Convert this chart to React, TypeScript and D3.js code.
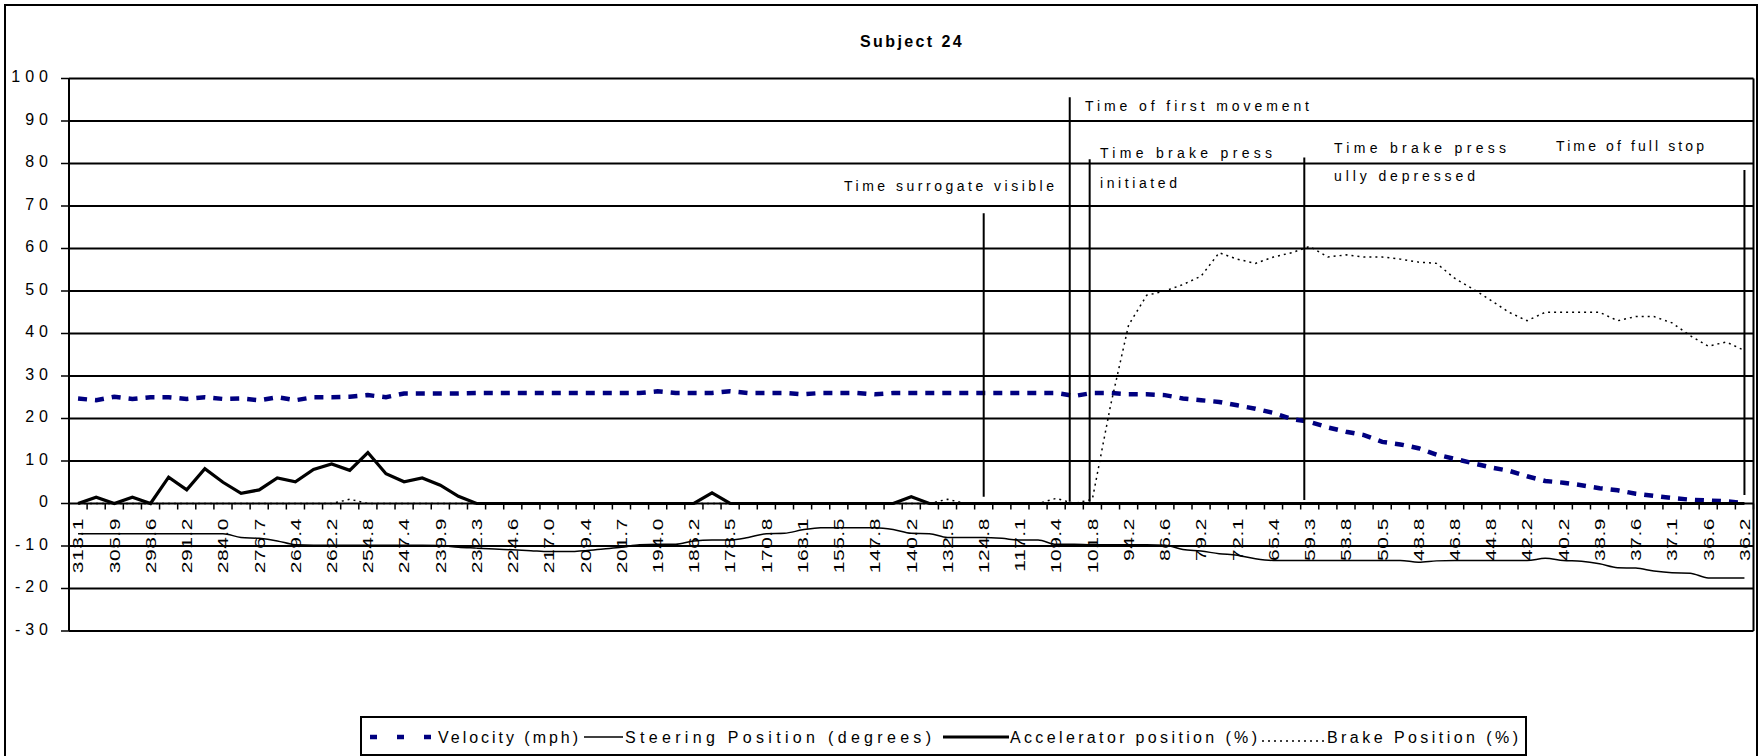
import React from "react";
import * as d3 from "d3";

// ---- data ----
const xTickLabels = ["313.1","305.9","298.6","291.2","284.0","276.7","269.4","262.2","254.8","247.4","239.9","232.3","224.6","217.0","209.4","201.7","194.0","186.2","178.5","170.8","163.1","155.5","147.8","140.2","132.5","124.8","117.1","109.4","101.8","94.2","86.6","79.2","72.1","65.4","59.3","53.8","50.5","48.8","46.8","44.8","42.2","40.2","38.9","37.6","37.1","36.6","36.2"];

const velocity = [24.7,24.3,25.1,24.6,25.0,25.0,24.6,25.0,24.6,24.7,24.3,25.0,24.3,25.0,25.0,25.1,25.5,25.0,25.9,25.9,25.9,
  25.9,
  26.0,26.0,26.0,26.0,26.0,26.0,26.0,26.0,26.0,26.0,
  26.4,
  26.0,26.0,26.0,
  26.4,
  26.0,26.0,26.0,
  25.7,
  26.0,26.0,26.0,
  25.7,
  26.0,26.0,26.0,26.0,26.0,26.0,26.0,26.0,26.0,26.0,
  25.3,26.0,26.0,25.7,25.7,25.5,24.7,24.3,23.9,23.1,22.3,21.3,19.9,19.2,17.9,16.9,16.1,14.5,13.9,13.0,11.5,10.5,9.5,8.5,7.7,6.4,5.3,4.9,4.3,3.6,3.1,2.3,1.8,1.3,0.9,0.7,0.5,0.1];

const steering = [-7.1,-7.1,-7.1,-7.1,-7.1,-7.1,-7.1,-7.1,-7.1,-8.0,-8.2,-8.8,-9.7,-9.8,-9.8,-9.8,-9.8,-9.8,-9.8,-9.8,-9.9,
  -10.3,-10.5,-10.7,-10.9,-11.1,-11.3,-11.3,-11.1,-10.7,-10.3,-9.7,-9.6,-9.6,-8.8,-8.6,-8.6,-8.0,-7.1,-7.0,-6.2,-5.7,-5.7,-5.7,-5.7,-6.1,-7.0,-7.1,-8.0,-8.0,-8.0,-8.2,-8.6,-8.6,-9.6,-9.6,
  -9.7,-9.7,-9.7,-9.7,-9.8,-10.8,-11.2,-11.8,-12.2,-13.0,
  -13.4,-13.4,-13.4,-13.4,-13.4,-13.4,-13.4,-13.4,-13.8,-13.5,
  -13.4,-13.4,-13.4,-13.4,-13.4,-12.9,-13.4,-13.6,-14.2,-15.1,-15.2,-15.9,-16.3,-16.4,-17.5,-17.5,-17.5];

const accelerator = [0,1.5,0,1.5,0,6.2,3.2,8.2,5.0,2.4,3.2,6.0,5.1,8.0,9.3,7.8,12.0,7.0,5.1,6.0,4.3,1.7,
  0,0,0,0,0,0,0,0,0,0,0,0,0,
  2.5,
  0,0,0,0,0,0,0,0,0,0,
  1.6,
  0,0,0,0,0,0,0,0,0,0,0,0,0,0,0,0,0,0,0,0,0,0,0,0,0,0,0,0,0,0,0,0,0,0,0,0,0,0,0,0,0,0,0,0,0,0];

const brake = [0,0,0,0,0,0,0,0,0,0,0,0,0,0,0,1.0,
  0,0,0,0,0,0,0,0,0,0,0,0,0,0,0,0,0,0,0,0,0,0,0,0,0,0,0,0,0,0,0,0,
  1.0,0,0,0,0,0,1.2,0,1.0,
  23,42,49,50,51.5,53.5,59,57.5,56.5,58,59,60.5,58,58.5,58,58,57.5,56.8,56.5,53,50.5,47.8,45,43,45,45,45,45,43,44,44,42.5,39.5,37,38,36];

const yTicks = [100, 90, 80, 70, 60, 50, 40, 30, 20, 10, 0, -10, -20, -30];
const seriesNames = ["Velocity (mph)", "Steering Position (degrees)", "Accelerator position (%)", "Brake Position (%)"];
const title = "Subject 24";

// event markers: category position, top / bottom value, label lines
const markerIndex = [50, 54.75, 55.85, 67.7, 92];
const markerTop = [68.3, 95.6, 81, 81.4, 78.5];
const markerBottom = [1.6, 0.4, 0.4, 0.8, 2];
const markerLabels = [["Time surrogate visible"], ["Time of first movement"], ["Time brake press", "initiated"], ["Time brake press", "ully depressed"], ["Time of full stop"]];

// ---- layout ----
const W = 1760, H = 756;
const L = 69, R = 1753.5, T = 78.5, B = 631;
const FONT = "'Liberation Sans', Arial, Helvetica, sans-serif";
const NAVY = "#000080";

// label placements: x start, baselines, and rendered widths of each line
const markerLabelPos = [[844, 191], [1085, 110.5], [1100, 158, 188], [1334, 153, 181], [1556, 151]];
const markerLabelWidth = [[210], [224], [172, 77], [172, 141], [148]];

// legend layout: symbol x1, x2, text x, text width
const legendSym = [[370, 431], [584, 623], [943, 1009], [1262, 1324]];
const legendText = [[438, 140], [625, 306], [1010, 247], [1327, 191]];

export default function App() {
  const n = velocity.length;
  const x = d3.scaleLinear().domain([-0.5, n - 0.5]).range([L, R]);
  const y = d3.scaleLinear().domain([-30, 100]).range([B, T]);
  const mk = (curve: any) => d3.line<number>().x((_, i) => x(i)).y(d => y(d)).curve(curve);
  const y0 = y(0);

  const yLS = 5;

  const seriesStyle = [
    { stroke: NAVY, width: 4.5, dash: "9 8" },
    { stroke: "#000", width: 1.5, dash: undefined },
    { stroke: "#000", width: 3.2, dash: undefined },
    { stroke: "#000", width: 1.5, dash: "2 4" },
  ];

  return (
    <div style={{ position: "fixed", left: 0, top: 0, width: W, height: H, background: "#fff" }}>
      <svg width={W} height={H} style={{ display: "block", fontFamily: FONT }}>
        <rect x={0} y={0} width={W} height={H} fill="#fff" />
        {/* outer chart border */}
        <rect x={5} y={5} width={1752} height={800} fill="none" stroke="#000" strokeWidth={2} />
        {/* title */}
        <text x={912} y={47} textAnchor="middle" fontSize={16} fontWeight="bold" letterSpacing={2.4}>{title}</text>

        {/* gridlines */}
        {yTicks.map(v => (
          <line key={"g" + v} x1={L} x2={R} y1={y(v)} y2={y(v)} stroke="#000" strokeWidth={2} />
        ))}
        {/* plot border left/right */}
        <line x1={L} x2={L} y1={T} y2={B} stroke="#000" strokeWidth={2} />
        <line x1={R} x2={R} y1={T} y2={B} stroke="#000" strokeWidth={2} />
        {/* y ticks + labels */}
        {yTicks.map(v => (
          <g key={"yt" + v}>
            <line x1={L - 8} x2={L} y1={y(v)} y2={y(v)} stroke="#000" strokeWidth={1.5} />
            <text x={53} y={y(v) - 2} textAnchor="end" dominantBaseline="central" fontSize={16} letterSpacing={yLS}>{v}</text>
          </g>
        ))}
        {/* x ticks at category boundaries */}
        {d3.range(n + 1).map(k => (
          <line key={"xt" + k} x1={x(k - 0.5)} x2={x(k - 0.5)} y1={y0} y2={y0 + 6} stroke="#000" strokeWidth={1.5} />
        ))}
        {/* x tick labels (every second category), glyphs stretched along the text */}
        {xTickLabels.map((lab, k) => (
          <text key={"xl" + k} transform={`translate(${x(k * 2)},${518}) rotate(-90) scale(1.4,1)`} textAnchor="end" dominantBaseline="central" fontSize={15} letterSpacing={0.4}>{lab}</text>
        ))}

        {/* series */}
        <path d={mk(d3.curveLinear)(velocity) || ""} fill="none" stroke={NAVY} strokeWidth={4.5} strokeDasharray="9 8" />
        <path d={mk(d3.curveMonotoneX)(steering) || ""} fill="none" stroke="#000" strokeWidth={1.5} />
        <path d={mk(d3.curveLinear)(accelerator) || ""} fill="none" stroke="#000" strokeWidth={3.2} strokeLinejoin="miter" />
        <path d={mk(d3.curveLinear)(brake) || ""} fill="none" stroke="#000" strokeWidth={1.5} strokeDasharray="2 4" />

        {/* event markers */}
        {markerIndex.map((mi, k) => (
          <g key={"m" + k}>
            <line x1={x(mi)} x2={x(mi)} y1={y(markerTop[k])} y2={y(markerBottom[k])} stroke="#000" strokeWidth={2} />
            {markerLabels[k].map((s, j) => (
              <text key={j} x={markerLabelPos[k][0]} y={markerLabelPos[k][1 + j]} fontSize={14} textLength={markerLabelWidth[k][j]} lengthAdjust="spacing">{s}</text>
            ))}
          </g>
        ))}

        {/* legend */}
        <rect x={361} y={717} width={1165} height={38} fill="#fff" stroke="#000" strokeWidth={2} />
        {seriesNames.map((nm, k) => (
          <g key={"lg" + k}>
            <line x1={legendSym[k][0]} x2={legendSym[k][1]} y1={k === 3 ? 741 : 737} y2={k === 3 ? 741 : 737}
              stroke={seriesStyle[k].stroke} strokeWidth={seriesStyle[k].width}
              strokeDasharray={k === 0 ? "7 20" : seriesStyle[k].dash} />
            <text x={legendText[k][0]} y={743} fontSize={16} textLength={legendText[k][1]} lengthAdjust="spacing">{nm}</text>
          </g>
        ))}
      </svg>
    </div>
  );
}
